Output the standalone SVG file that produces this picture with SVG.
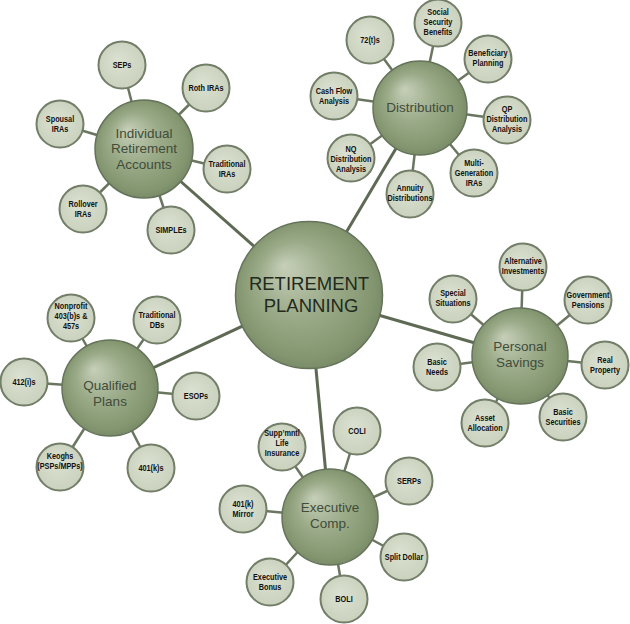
<svg xmlns="http://www.w3.org/2000/svg" width="630" height="624" viewBox="0 0 630 624">
<defs>
<radialGradient id="hubg" cx="0.5" cy="0.5" r="0.55" fx="0.33" fy="0.3">
<stop offset="0" stop-color="#c6cfb9"/>
<stop offset="0.45" stop-color="#9cac8a"/>
<stop offset="0.85" stop-color="#83956f"/>
<stop offset="1" stop-color="#718462"/>
</radialGradient>
<radialGradient id="satg" cx="0.5" cy="0.5" r="0.55" fx="0.4" fy="0.38">
<stop offset="0" stop-color="#dbe1d1"/>
<stop offset="1" stop-color="#c9d1bd"/>
</radialGradient>
</defs>
<style>
.hub{fill:url(#hubg);stroke:#64735a;stroke-width:1.5}
.sat{fill:url(#satg);stroke:#737e68;stroke-width:2}
.ml{stroke:#5f6a55;stroke-width:3;fill:none}
.l{stroke:#6b7661;stroke-width:2.5;fill:none}
.st{font-family:"Liberation Sans",Arial,sans-serif;font-weight:bold;font-size:8.5px;fill:#111;text-anchor:middle}
.ht{font-family:"Liberation Sans",Arial,sans-serif;font-size:13.5px;fill:#414c3a;text-anchor:middle}
.ct{font-family:"Liberation Sans",Arial,sans-serif;font-size:18.5px;fill:#222a1e;text-anchor:middle}
</style>
<rect width="630" height="624" fill="#ffffff"/>
<g id="connectors">
<line class="ml" x1="309" y1="295" x2="144" y2="149"/>
<line class="ml" x1="309" y1="295" x2="420" y2="108"/>
<line class="ml" x1="309" y1="295" x2="520" y2="356"/>
<line class="ml" x1="309" y1="295" x2="110" y2="388"/>
<line class="ml" x1="309" y1="295" x2="330" y2="517"/>
<line class="l" x1="144" y1="149" x2="122" y2="65"/>
<line class="l" x1="144" y1="149" x2="206" y2="88"/>
<line class="l" x1="144" y1="149" x2="60" y2="124"/>
<line class="l" x1="144" y1="149" x2="227" y2="169"/>
<line class="l" x1="144" y1="149" x2="83" y2="209"/>
<line class="l" x1="144" y1="149" x2="171" y2="230"/>
<line class="l" x1="420" y1="108" x2="370" y2="40"/>
<line class="l" x1="420" y1="108" x2="438" y2="23"/>
<line class="l" x1="420" y1="108" x2="488" y2="59"/>
<line class="l" x1="420" y1="108" x2="334" y2="96"/>
<line class="l" x1="420" y1="108" x2="507" y2="120"/>
<line class="l" x1="420" y1="108" x2="351" y2="158"/>
<line class="l" x1="420" y1="108" x2="474" y2="173"/>
<line class="l" x1="420" y1="108" x2="410" y2="194"/>
<line class="l" x1="520" y1="356" x2="523" y2="267"/>
<line class="l" x1="520" y1="356" x2="588" y2="300"/>
<line class="l" x1="520" y1="356" x2="453" y2="299"/>
<line class="l" x1="520" y1="356" x2="437" y2="367"/>
<line class="l" x1="520" y1="356" x2="605" y2="365"/>
<line class="l" x1="520" y1="356" x2="485" y2="423"/>
<line class="l" x1="520" y1="356" x2="563" y2="417"/>
<line class="l" x1="110" y1="388" x2="71" y2="318"/>
<line class="l" x1="110" y1="388" x2="157" y2="320"/>
<line class="l" x1="110" y1="388" x2="24" y2="382"/>
<line class="l" x1="110" y1="388" x2="196" y2="396"/>
<line class="l" x1="110" y1="388" x2="60" y2="467"/>
<line class="l" x1="110" y1="388" x2="151" y2="468"/>
<line class="l" x1="330" y1="517" x2="282" y2="447"/>
<line class="l" x1="330" y1="517" x2="357" y2="431"/>
<line class="l" x1="330" y1="517" x2="409" y2="481"/>
<line class="l" x1="330" y1="517" x2="243" y2="509"/>
<line class="l" x1="330" y1="517" x2="404" y2="557"/>
<line class="l" x1="330" y1="517" x2="270" y2="582"/>
<line class="l" x1="330" y1="517" x2="344" y2="599"/>
</g>

<g id="retirement-planning"><circle class="hub" cx="309" cy="295" r="73.5"/><text class="ct"><tspan x="309" y="290">RETIREMENT</tspan><tspan x="311" y="312">PLANNING</tspan></text></g>

<g id="ira"><circle class="hub" cx="144" cy="149" r="49"/><text class="ht"><tspan x="144" y="137.5">Individual</tspan><tspan x="144" y="153">Retirement</tspan><tspan x="144" y="168.5">Accounts</tspan></text></g>
<g id="seps"><circle class="sat" cx="122" cy="65" r="23.5"/><text class="st" transform="translate(122 65) scale(0.86 1)"><tspan x="0" y="3">SEPs</tspan></text></g>
<g id="roth-iras"><circle class="sat" cx="206" cy="88" r="23.5"/><text class="st" transform="translate(206 88) scale(0.86 1)"><tspan x="0" y="3">Roth IRAs</tspan></text></g>
<g id="spousal-iras"><circle class="sat" cx="60" cy="124" r="23.5"/><text class="st" transform="translate(60 124) scale(0.86 1)"><tspan x="0" y="-2">Spousal</tspan><tspan x="0" y="8">IRAs</tspan></text></g>
<g id="traditional-iras"><circle class="sat" cx="227" cy="169" r="23.5"/><text class="st" transform="translate(227 169) scale(0.86 1)"><tspan x="0" y="-2">Traditional</tspan><tspan x="0" y="8">IRAs</tspan></text></g>
<g id="rollover-iras"><circle class="sat" cx="83" cy="209" r="23.5"/><text class="st" transform="translate(83 209) scale(0.86 1)"><tspan x="0" y="-2">Rollover</tspan><tspan x="0" y="8">IRAs</tspan></text></g>
<g id="simples"><circle class="sat" cx="171" cy="230" r="23.5"/><text class="st" transform="translate(171 230) scale(0.86 1)"><tspan x="0" y="3">SIMPLEs</tspan></text></g>

<g id="distribution"><circle class="hub" cx="420" cy="108" r="47"/><text class="ht" x="420" y="112">Distribution</text></g>
<g id="t72"><circle class="sat" cx="370" cy="40" r="23.5"/><text class="st" transform="translate(370 40) scale(0.86 1)"><tspan x="0" y="3">72(t)s</tspan></text></g>
<g id="social-security"><circle class="sat" cx="438" cy="23" r="23.5"/><text class="st" transform="translate(438 23) scale(0.86 1)"><tspan x="0" y="-8">Social</tspan><tspan x="0" y="2">Security</tspan><tspan x="0" y="12">Benefits</tspan></text></g>
<g id="beneficiary"><circle class="sat" cx="488" cy="59" r="23.5"/><text class="st" transform="translate(488 59) scale(0.86 1)"><tspan x="0" y="-3">Beneficiary</tspan><tspan x="0" y="7">Planning</tspan></text></g>
<g id="cash-flow"><circle class="sat" cx="334" cy="96" r="23.5"/><text class="st" transform="translate(334 96) scale(0.86 1)"><tspan x="0" y="-2.5">Cash Flow</tspan><tspan x="0" y="7.5">Analysis</tspan></text></g>
<g id="qp-distribution"><circle class="sat" cx="507" cy="120" r="23.5"/><text class="st" transform="translate(507 120) scale(0.86 1)"><tspan x="0" y="-8">QP</tspan><tspan x="0" y="2">Distribution</tspan><tspan x="0" y="12">Analysis</tspan></text></g>
<g id="nq-distribution"><circle class="sat" cx="351" cy="158" r="23.5"/><text class="st" transform="translate(351 158) scale(0.86 1)"><tspan x="0" y="-6">NQ</tspan><tspan x="0" y="4">Distribution</tspan><tspan x="0" y="14">Analysis</tspan></text></g>
<g id="multi-generation"><circle class="sat" cx="474" cy="173" r="23.5"/><text class="st" transform="translate(474 173) scale(0.86 1)"><tspan x="0" y="-7">Multi-</tspan><tspan x="0" y="3">Generation</tspan><tspan x="0" y="13">IRAs</tspan></text></g>
<g id="annuity"><circle class="sat" cx="410" cy="194" r="23.5"/><text class="st" transform="translate(410 194) scale(0.86 1)"><tspan x="0" y="-3.5">Annuity</tspan><tspan x="0" y="6.5">Distributions</tspan></text></g>

<g id="personal-savings"><circle class="hub" cx="520" cy="356" r="48"/><text class="ht"><tspan x="520" y="351">Personal</tspan><tspan x="520" y="366.5">Savings</tspan></text></g>
<g id="alternative"><circle class="sat" cx="523" cy="267" r="23.5"/><text class="st" transform="translate(523 267) scale(0.86 1)"><tspan x="0" y="-3.5">Alternative</tspan><tspan x="0" y="6.5">Investments</tspan></text></g>
<g id="government"><circle class="sat" cx="588" cy="300" r="23.5"/><text class="st" transform="translate(588 300) scale(0.86 1)"><tspan x="0" y="-2.5">Government</tspan><tspan x="0" y="7.5">Pensions</tspan></text></g>
<g id="special"><circle class="sat" cx="453" cy="299" r="23.5"/><text class="st" transform="translate(453 299) scale(0.86 1)"><tspan x="0" y="-3">Special</tspan><tspan x="0" y="7">Situations</tspan></text></g>
<g id="basic-needs"><circle class="sat" cx="437" cy="367" r="23.5"/><text class="st" transform="translate(437 367) scale(0.86 1)"><tspan x="0" y="-2">Basic</tspan><tspan x="0" y="8">Needs</tspan></text></g>
<g id="real-property"><circle class="sat" cx="605" cy="365" r="23.5"/><text class="st" transform="translate(605 365) scale(0.86 1)"><tspan x="0" y="-2">Real</tspan><tspan x="0" y="8">Property</tspan></text></g>
<g id="asset-allocation"><circle class="sat" cx="485" cy="423" r="23.5"/><text class="st" transform="translate(485 423) scale(0.86 1)"><tspan x="0" y="-2">Asset</tspan><tspan x="0" y="8">Allocation</tspan></text></g>
<g id="basic-securities"><circle class="sat" cx="563" cy="417" r="23.5"/><text class="st" transform="translate(563 417) scale(0.86 1)"><tspan x="0" y="-2">Basic</tspan><tspan x="0" y="8">Securities</tspan></text></g>

<g id="qualified-plans"><circle class="hub" cx="110" cy="388" r="48"/><text class="ht"><tspan x="110" y="390">Qualified</tspan><tspan x="110" y="405.5">Plans</tspan></text></g>
<g id="nonprofit"><circle class="sat" cx="71" cy="318" r="23.5"/><text class="st" transform="translate(71 318) scale(0.86 1)"><tspan x="0" y="-9">Nonprofit</tspan><tspan x="0" y="1">403(b)s &amp;</tspan><tspan x="0" y="11">457s</tspan></text></g>
<g id="traditional-dbs"><circle class="sat" cx="157" cy="320" r="23.5"/><text class="st" transform="translate(157 320) scale(0.86 1)"><tspan x="0" y="-2">Traditional</tspan><tspan x="0" y="8">DBs</tspan></text></g>
<g id="i412"><circle class="sat" cx="24" cy="382" r="23.5"/><text class="st" transform="translate(24 382) scale(0.86 1)"><tspan x="0" y="3">412(i)s</tspan></text></g>
<g id="esops"><circle class="sat" cx="196" cy="396" r="23.5"/><text class="st" transform="translate(196 396) scale(0.86 1)"><tspan x="0" y="3">ESOPs</tspan></text></g>
<g id="keoghs"><circle class="sat" cx="60" cy="467" r="23.5"/><text class="st" transform="translate(60 467) scale(0.86 1)"><tspan x="0" y="-8">Keoghs</tspan><tspan x="0" y="2">(PSPs/MPPs)</tspan></text></g>
<g id="k401"><circle class="sat" cx="151" cy="468" r="23.5"/><text class="st" transform="translate(151 468) scale(0.86 1)"><tspan x="0" y="3">401(k)s</tspan></text></g>

<g id="executive-comp"><circle class="hub" cx="330" cy="517" r="48"/><text class="ht"><tspan x="330" y="512">Executive</tspan><tspan x="330" y="527.5">Comp.</tspan></text></g>
<g id="suppmntl"><circle class="sat" cx="282" cy="447" r="23.5"/><text class="st" transform="translate(282 447) scale(0.86 1)"><tspan x="0" y="-11">Supp’mntl</tspan><tspan x="0" y="-1">Life</tspan><tspan x="0" y="9">Insurance</tspan></text></g>
<g id="coli"><circle class="sat" cx="357" cy="431" r="23.5"/><text class="st" transform="translate(357 431) scale(0.86 1)"><tspan x="0" y="3">COLI</tspan></text></g>
<g id="serps"><circle class="sat" cx="409" cy="481" r="23.5"/><text class="st" transform="translate(409 481) scale(0.86 1)"><tspan x="0" y="3">SERPs</tspan></text></g>
<g id="k401-mirror"><circle class="sat" cx="243" cy="509" r="23.5"/><text class="st" transform="translate(243 509) scale(0.86 1)"><tspan x="0" y="-2">401(k)</tspan><tspan x="0" y="8">Mirror</tspan></text></g>
<g id="split-dollar"><circle class="sat" cx="404" cy="557" r="23.5"/><text class="st" transform="translate(404 557) scale(0.86 1)"><tspan x="0" y="3">Split Dollar</tspan></text></g>
<g id="executive-bonus"><circle class="sat" cx="270" cy="582" r="23.5"/><text class="st" transform="translate(270 582) scale(0.86 1)"><tspan x="0" y="-2">Executive</tspan><tspan x="0" y="8">Bonus</tspan></text></g>
<g id="boli"><circle class="sat" cx="344" cy="599" r="23.5"/><text class="st" transform="translate(344 599) scale(0.86 1)"><tspan x="0" y="3">BOLI</tspan></text></g>
</svg>
